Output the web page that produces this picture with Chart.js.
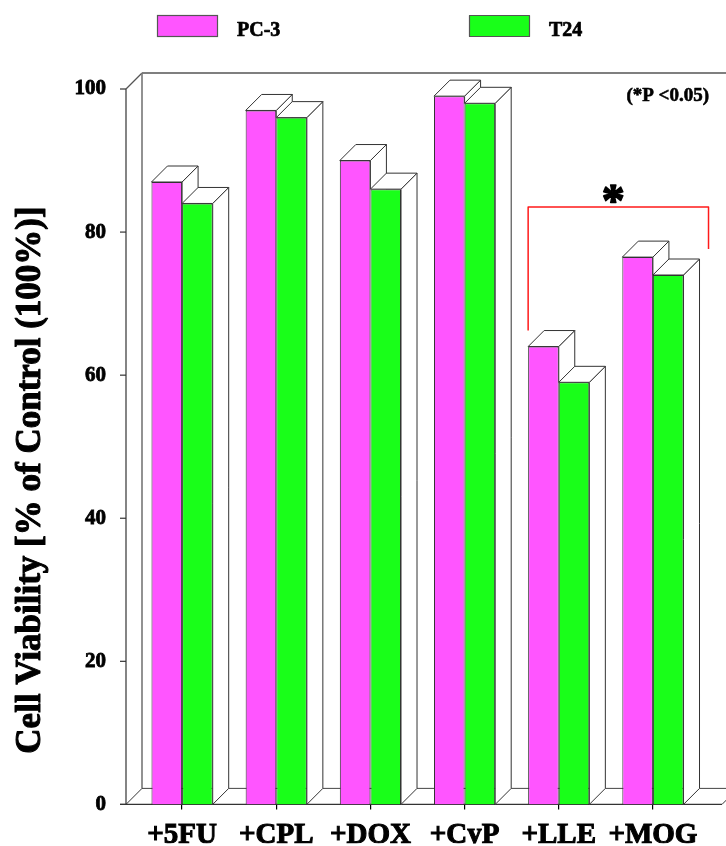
<!DOCTYPE html>
<html>
<head>
<meta charset="utf-8">
<script src="https://cdn.jsdelivr.net/npm/chart.js@4.4.1/dist/chart.umd.min.js"></script>
<style>
  html, body { margin: 0; padding: 0; background: #fff; }
  #wrap { width: 726px; height: 846px; }
</style>
</head>
<body>
<div id="wrap"><canvas id="c" width="726" height="846"></canvas></div>
<script>
// Cell viability after combination treatment, two cell lines
const categories = ['+5FU', '+CPL', '+DOX', '+CyP', '+LLE', '+MOG'];
const pc3Values = [87, 97, 90, 99, 64, 76.5];
const t24Values = [84, 96, 86, 98, 59, 74];
const yTickValues = [0, 20, 40, 60, 80, 100];
const seriesNames = ['PC-3', 'T24'];
const seriesColors = ['#ff55ff', '#19ff19'];
const yTitle = 'Cell Viability [% of Control (100%)]';
const noteText = '(*P <0.05)';
// significance bracket between +LLE and +MOG
const bracketPair = [4, 5];
const bracketLevel = 83.5;

const FONT = "'Liberation Serif', 'Times New Roman', serif";
const DEPTH = 16;           // pseudo-3D depth offset in px
const EDGE = '#333333';

function quad(ctx, pts, fill, stroke) {
  ctx.beginPath();
  ctx.moveTo(pts[0][0], pts[0][1]);
  for (let i = 1; i < pts.length; i++) ctx.lineTo(pts[i][0], pts[i][1]);
  ctx.closePath();
  ctx.fillStyle = fill;
  ctx.fill();
  ctx.strokeStyle = stroke;
  ctx.lineWidth = 1;
  ctx.stroke();
}

function line(ctx, x1, y1, x2, y2, color, w) {
  ctx.beginPath();
  ctx.moveTo(x1, y1);
  ctx.lineTo(x2, y2);
  ctx.strokeStyle = color;
  ctx.lineWidth = w || 1;
  ctx.stroke();
}

// heavy text: filled and outlined so the strokes read thicker
function heavyText(ctx, txt, x, y, weight) {
  ctx.fillStyle = '#000';
  ctx.strokeStyle = '#000';
  ctx.lineWidth = weight;
  ctx.lineJoin = 'round';
  ctx.strokeText(txt, x, y);
  ctx.fillText(txt, x, y);
}

function barFaces(ctx, el, clipY) {
  const l = el.x - el.width / 2, r = el.x + el.width / 2, t = el.y, b = el.base;
  const d = DEPTH;
  ctx.save();
  if (clipY !== undefined) {
    ctx.beginPath();
    ctx.rect(0, 0, 2000, clipY);
    ctx.clip();
  }
  // side face
  quad(ctx, [[r, t], [r + d, t - d], [r + d, b - d], [r, b]], '#ffffff', EDGE);
  ctx.restore();
  // top face
  quad(ctx, [[l, t], [l + d, t - d], [r + d, t - d], [r, t]], '#ffffff', EDGE);
}

const frame3d = {
  id: 'frame3d',
  beforeDatasetsDraw(chart) {
    const ctx = chart.ctx;
    const y = chart.scales.y;
    const ca = chart.chartArea;
    const d = DEPTH;
    const front = ca.left - 9;          // front edge of the left wall
    const rightFront = ca.right + 22;   // front-right corner of the floor
    const y0 = y.getPixelForValue(0);
    const yTop = y.getPixelForValue(100);
    ctx.save();
    // back wall top edge and left wall
    line(ctx, front + d, yTop - d, chart.width + 20, yTop - d, '#000', 1.2);
    line(ctx, front, yTop, front + d, yTop - d, '#555', 1.2);
    line(ctx, front, yTop, front, y0, '#666', 1.6);
    line(ctx, front + d, yTop - d, front + d, y0 - d, '#777', 1.6);
    // floor
    line(ctx, front, y0, front + d, y0 - d, '#333', 1);
    line(ctx, front + d, y0 - d, rightFront + d, y0 - d, '#444', 1);
    line(ctx, rightFront, y0, rightFront + d, y0 - d, '#333', 1);
    line(ctx, front - 6, y0, rightFront, y0, '#333', 1.2);
    // y tick marks
    yTickValues.forEach(v => {
      const py = y.getPixelForValue(v);
      line(ctx, front - 6, py, front, py, '#333', 1.2);
    });
    ctx.restore();
  },
  afterDatasetsDraw(chart) {
    const ctx = chart.ctx;
    const m0 = chart.getDatasetMeta(0).data;
    const m1 = chart.getDatasetMeta(1).data;
    ctx.save();
    for (let i = 0; i < m0.length; i++) {
      const p = m0[i], g = m1[i];
      barFaces(ctx, p, g.y);
      barFaces(ctx, g);
    }
    ctx.restore();
  },
  afterDraw(chart) {
    const ctx = chart.ctx;
    const y = chart.scales.y;
    const m0 = chart.getDatasetMeta(0).data;
    const m1 = chart.getDatasetMeta(1).data;
    ctx.save();

    // legend
    const legendX = [157, 469];
    seriesNames.forEach((name, k) => {
      ctx.fillStyle = seriesColors[k];
      ctx.fillRect(legendX[k], 15, 60, 21);
      ctx.strokeStyle = '#555';
      ctx.lineWidth = 1.2;
      ctx.strokeRect(legendX[k] + 0.5, 15.5, 60, 21);
      ctx.font = 'bold 20px ' + FONT;
      ctx.textAlign = 'left';
      ctx.textBaseline = 'middle';
      heavyText(ctx, name, legendX[k] + 80, 31, 0.7);
    });

    // y axis title
    ctx.save();
    ctx.translate(31, 480);
    ctx.rotate(-Math.PI / 2);
    ctx.font = 'bold 35px ' + FONT;
    ctx.textAlign = 'center';
    ctx.textBaseline = 'middle';
    heavyText(ctx, yTitle, 0, 0, 1);
    ctx.restore();

    // significance note
    ctx.font = 'bold 19px ' + FONT;
    ctx.textAlign = 'right';
    ctx.textBaseline = 'middle';
    heavyText(ctx, noteText, 709, 96, 0.6);

    // bracket between the two extract groups
    const a = m0[bracketPair[0]];
    const b = m1[bracketPair[1]];
    const xl = a.x - a.width / 2;
    const xr = b.x + b.width / 2 + DEPTH + 9;
    const yl = a.y - DEPTH;
    const yr = m0[bracketPair[1]].y - DEPTH + 8;
    const yb = y.getPixelForValue(bracketLevel);
    ctx.beginPath();
    ctx.moveTo(xl, yl);
    ctx.lineTo(xl, yb);
    ctx.lineTo(xr, yb);
    ctx.lineTo(xr, yr);
    ctx.strokeStyle = '#ff1a1a';
    ctx.lineWidth = 1.5;
    ctx.stroke();
    ctx.font = 'bold 46px ' + FONT;
    ctx.textAlign = 'center';
    ctx.textBaseline = 'alphabetic';
    heavyText(ctx, '*', (xl + xr) / 2 - 5, yb + 9, 1.5);

    ctx.restore();
  }
};

new Chart(document.getElementById('c'), {
  type: 'bar',
  data: {
    labels: categories,
    datasets: [
      { label: seriesNames[0], data: pc3Values, backgroundColor: seriesColors[0], borderColor: EDGE, borderWidth: 1 },
      { label: seriesNames[1], data: t24Values, backgroundColor: seriesColors[1], borderColor: EDGE, borderWidth: 1 }
    ]
  },
  options: {
    responsive: false,
    animation: false,
    devicePixelRatio: 1,
    categoryPercentage: 0.65,
    barPercentage: 1.0,
    layout: { padding: { top: 89, right: 26, bottom: 0, left: 0 } },
    plugins: { legend: { display: false }, tooltip: { enabled: false } },
    scales: {
      x: {
        offset: true,
        border: { display: false },
        grid: { display: true, offset: false, drawOnChartArea: false, drawTicks: true, tickLength: 5, color: '#000', lineWidth: 1.2 },
        ticks: {
          color: '#000', font: { family: FONT, size: 29, weight: 'bold' }, padding: 9,
          maxRotation: 0, autoSkip: false, textStrokeColor: '#000', textStrokeWidth: 1
        },
        afterFit(s) { s.height = 39; }
      },
      y: {
        min: 0,
        max: 100,
        afterBuildTicks(s) { s.ticks = yTickValues.map(v => ({ value: v })); },
        border: { display: false },
        grid: { display: false, drawTicks: false },
        ticks: {
          color: '#000', font: { family: FONT, size: 21, weight: 'bold' }, padding: 29,
          textStrokeColor: '#000', textStrokeWidth: 0.8
        },
        afterFit(s) { s.width = 135; }
      }
    }
  },
  plugins: [frame3d]
});
</script>
</body>
</html>
